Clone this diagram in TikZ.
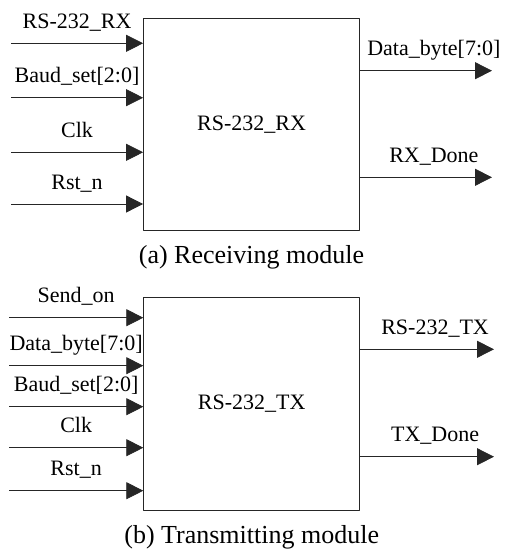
\documentclass[tikz,border=0pt]{standalone}
\usepackage{fontspec}
\setmainfont{Liberation Serif}
\usetikzlibrary{arrows.meta,positioning}

\begin{document}
\begin{tikzpicture}[x=1pt,y=-1pt,>={Triangle[length=17pt,width=17pt]},line join=round,
    font=\rmfamily\fontsize{22}{26}\selectfont,
    module/.style={draw=black!85,line width=0.8pt,minimum width=216pt,minimum height=212pt,inner sep=0pt},
    sig/.style={->,draw=black!85,line width=0.8pt},
    lbl/.style={anchor=base,yshift=15pt,inner sep=0pt},
    capt/.style={font=\rmfamily\fontsize{26}{30}\selectfont}]
    \useasboundingbox (0,0) rectangle (508,554);
    % (a) receiving module
    \node[module] (rx) at (251.5,124.7) {RS-232\_RX};
    \node[capt,below=11pt of rx] (rxcap) {(a) Receiving module};
    \foreach \y/\t [count=\i] in {43.3/{RS-232\_RX},97.7/{Baud\_set[2:0]},152.3/{Clk},204/{Rst\_n}}{
        \coordinate (rxin\i) at (11,\y);
        \draw[sig] (rxin\i) -- (rxin\i -| rx.west) node[lbl,midway]{\t};
    }
    \foreach \y/\t [count=\i] in {70.7/{Data\_byte[7:0]},177.3/{RX\_Done}}{
        \coordinate (rxout\i) at (492,\y);
        \draw[sig] (rxout\i -| rx.east) -- (rxout\i) node[lbl,pos=0.56]{\t};
    }
    % (b) transmitting module
    \node[module,minimum height=213pt] (tx) at (251.7,404) {RS-232\_TX};
    \node[capt,below=11pt of tx] (txcap) {(b) Transmitting module};
    \foreach \y/\t [count=\i] in {317.7/{Send\_on},365.7/{Data\_byte[7:0]},406.7/{Baud\_set[2:0]},447.7/{Clk},490.7/{Rst\_n}}{
        \coordinate (txin\i) at (9,\y);
        \draw[sig] (txin\i) -- (txin\i -| tx.west) node[lbl,midway]{\t};
    }
    \foreach \y/\t [count=\i] in {349.3/{RS-232\_TX},456.7/{TX\_Done}}{
        \coordinate (txout\i) at (494,\y);
        \draw[sig] (txout\i -| tx.east) -- (txout\i) node[lbl,pos=0.56]{\t};
    }
\end{tikzpicture}
\end{document}
